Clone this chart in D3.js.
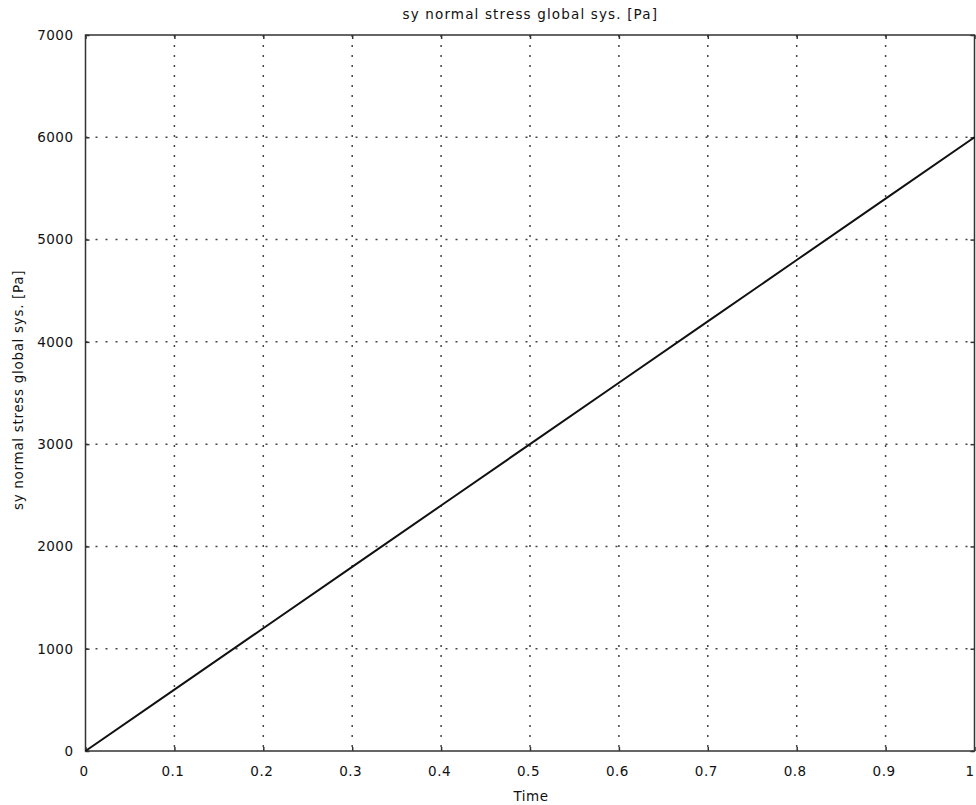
<!DOCTYPE html>
<html>
<head>
<meta charset="utf-8">
<script src="https://d3js.org/d3.v7.min.js"></script>
<style>
  body { margin: 0; background: #fff; }
  text { font-family: "DejaVu Sans", Verdana, sans-serif; fill: #111; letter-spacing: 0.5px; }
</style>
</head>
<body>
<div id="chart"></div>
<script>
// data
var times = [0, 0.1, 0.2, 0.3, 0.4, 0.5, 0.6, 0.7, 0.8, 0.9, 1];
var stress = [0, 600, 1200, 1800, 2400, 3000, 3600, 4200, 4800, 5400, 6000];
var xTicks = [0, 0.1, 0.2, 0.3, 0.4, 0.5, 0.6, 0.7, 0.8, 0.9, 1];
var yTicks = [0, 1000, 2000, 3000, 4000, 5000, 6000, 7000];

var W = 976, H = 805;
var margin = { top: 35, right: 1.5, bottom: 54, left: 85.5 },
    width = W - margin.left - margin.right,
    height = H - margin.top - margin.bottom;
var fs = 13.5;

var svg = d3.select("#chart").append("svg")
    .attr("width", W).attr("height", H);
var g = svg.append("g")
    .attr("transform", "translate(" + margin.left + "," + margin.top + ")");

var x = d3.scaleLinear().domain([0, 1]).range([0, width]);
var y = d3.scaleLinear().domain([0, 7000]).range([height, 0]);

// dotted grid
g.selectAll(".vgrid").data(xTicks.slice(1, -1)).enter().append("line")
    .attr("x1", d => x(d)).attr("x2", d => x(d))
    .attr("y1", 0).attr("y2", height)
    .attr("stroke", "#444").attr("stroke-width", 1.5)
    .attr("stroke-dasharray", "2,8");
g.selectAll(".hgrid").data(yTicks.slice(1, -1)).enter().append("line")
    .attr("y1", d => y(d)).attr("y2", d => y(d))
    .attr("x1", 0).attr("x2", width)
    .attr("stroke", "#444").attr("stroke-width", 1.5)
    .attr("stroke-dasharray", "2,8");

// axes with small inward ticks
g.append("g").attr("transform", "translate(0," + height + ")")
    .call(d3.axisBottom(x).tickValues(xTicks).tickSize(-4).tickPadding(15).tickFormat(d => String(d)))
    .call(a => a.select(".domain").remove())
    .call(a => a.selectAll("text").attr("font-size", fs).attr("dx", -2)
        .style("font-family", "DejaVu Sans"))
    .call(a => a.selectAll(".tick:last-of-type text").attr("text-anchor", "end").attr("dx", -0.5));
g.append("g")
    .call(d3.axisTop(x).tickValues(xTicks).tickSize(-4).tickFormat(""))
    .call(a => a.select(".domain").remove());
g.append("g")
    .call(d3.axisLeft(y).tickValues(yTicks).tickSize(-4).tickPadding(12).tickFormat(d => String(d)))
    .call(a => a.select(".domain").remove())
    .call(a => a.selectAll("text").attr("font-size", fs).style("font-family", "DejaVu Sans"));
g.append("g").attr("transform", "translate(" + width + ",0)")
    .call(d3.axisRight(y).tickValues(yTicks).tickSize(-4).tickFormat(""))
    .call(a => a.select(".domain").remove());
g.selectAll(".tick line").attr("stroke", "#333").attr("stroke-width", 1.5);

// frame
g.append("rect").attr("width", width).attr("height", height)
    .attr("fill", "none").attr("stroke", "#333").attr("stroke-width", 1.5);

// data line
g.append("path")
    .datum(times.map((t, i) => [t, stress[i]]))
    .attr("fill", "none").attr("stroke", "#111").attr("stroke-width", 2)
    .attr("d", d3.line().x(d => x(d[0])).y(d => y(d[1])));

// titles
svg.append("text").attr("x", 530).attr("y", 19)
    .attr("text-anchor", "middle").attr("font-size", fs)
    .attr("textLength", 255).attr("lengthAdjust", "spacing")
    .text("sy normal stress global sys. [Pa]");
svg.append("text").attr("x", 531).attr("y", 801)
    .attr("text-anchor", "middle").attr("font-size", fs)
    .text("Time");
svg.append("text")
    .attr("transform", "translate(23,390) rotate(-90)")
    .attr("text-anchor", "middle").attr("font-size", fs)
    .attr("textLength", 240).attr("lengthAdjust", "spacing")
    .text("sy normal stress global sys. [Pa]");
</script>
</body>
</html>
